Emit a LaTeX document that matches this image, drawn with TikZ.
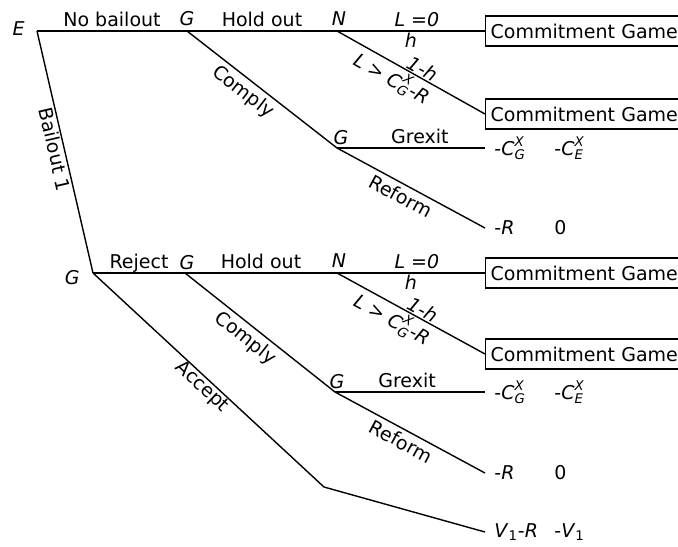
\documentclass[tikz,border=0pt]{standalone}
\usepackage{amsmath}
\usepackage{fontspec}
\setmainfont{DejaVu Sans}
\usetikzlibrary{positioning}

\newcommand{\costx}[1]{$\textit{C}^{\textit{X}}_{\textit{#1}}$}

\begin{document}
\begin{tikzpicture}[
            x=0.5pt, y=-0.5pt,
            every node/.style={font=\fontsize{9.5}{11}\selectfont},
            player/.style={
                font=\fontsize{9.5}{11}\selectfont\itshape,
                inner sep=1pt
            },
            move/.style={inner sep=2pt, text depth=0pt},
            game/.style={
                rectangle,
                draw,
                line width=0.7pt,
                anchor=west,
                minimum height=15pt,
                text width=100pt,
                inner xsep=2.5pt
            },
            payoff/.style={anchor=west, inner xsep=4.5pt},
            branch/.style={line width=0.7pt}
        ]
        \useasboundingbox (0,0) rectangle (678,546);

        % Decision points
        \coordinate (e) at (37,31);
        \coordinate (g1) at (187,31);
        \coordinate (n1) at (337,31);
        \coordinate (g2) at (337,148);
        \coordinate (g3) at (93,273);
        \coordinate (g4) at (185,273);
        \coordinate (n2) at (337,273);
        \coordinate (g5) at (335,392);
        \coordinate (acc) at (324,487);

        % Players
        \node[player, left=5pt of e, yshift=1pt] (le) {E};
        \node[player, above=1.5pt of g1] (lg1) {G};
        \node[player, above=1.5pt of n1, xshift=1pt] (ln1) {N};
        \node[player, above=0.5pt of g2, xshift=2pt] (lg2) {G};
        \node[player, left=5.5pt of g3, yshift=-2.5pt] (lg3) {G};
        \node[player, above=0.5pt of g4, xshift=1pt] (lg4) {G};
        \node[player, above=1.5pt of n2, xshift=1pt] (ln2) {N};
        \node[player, above=0.5pt of g5, xshift=1pt] (lg5) {G};

        % Outcomes
        \node[game] (cg1) at (485,31) {Commitment Game};
        \node[game] (cg2) at (485,114) {Commitment Game};
        \node[payoff] (exit1) at (485,148) {\makebox[30pt][l]{-\costx{G}}-\costx{E}};
        \node[payoff] (ref1) at (485,228) {\makebox[30pt][l]{-\textit{R}}0};
        \node[game] (cg3) at (485,273) {Commitment Game};
        \node[game] (cg4) at (485,354) {Commitment Game};
        \node[payoff] (exit2) at (485,392) {\makebox[30pt][l]{-\costx{G}}-\costx{E}};
        \node[payoff] (ref2) at (485,473) {\makebox[30pt][l]{-\textit{R}}0};
        \node[payoff] (bail) at (485,532) {\makebox[30pt][l]{\textit{V}$_{\text{1}}$-\textit{R}}-\textit{V}$_{\text{1}}$};

        % Branches
        \draw[branch] (e) -- node[move, above] {No bailout} (g1);
        \draw[branch] (g1) -- node[move, above] {Hold out} (n1);
        \draw[branch] (n1) -- node[move, above, pos=0.54] {\textit{L =0}}
            node[move, below, pos=0.5, inner sep=0.5pt] {\textit{h}} (cg1.west);
        \draw[branch] (n1) -- node[move, sloped, above, pos=0.55, inner sep=0.5pt] {\textit{1-h}}
            node[move, sloped, below, pos=0.42, inner sep=1pt] {\textit{L >} \costx{G}\textit{-R}} (cg2.west);
        \draw[branch] (g1) -- node[move, sloped, below, pos=0.43] {Comply} (g2);
        \draw[branch] (g2) -- node[move, above, pos=0.56] {Grexit} (exit1.west);
        \draw[branch] (g2) -- node[move, sloped, below, pos=0.47] {Reform} (ref1.west);

        \draw[branch] (e) -- node[move, sloped, below, pos=0.48, inner sep=0.5pt] {Bailout 1} (g3);
        \draw[branch] (g3) -- node[move, above] {Reject} (g4);
        \draw[branch] (g4) -- node[move, above] {Hold out} (n2);
        \draw[branch] (n2) -- node[move, above, pos=0.54] {\textit{L =0}}
            node[move, below, pos=0.5, inner sep=0.5pt] {\textit{h}} (cg3.west);
        \draw[branch] (n2) -- node[move, sloped, above, pos=0.55, inner sep=0.5pt] {\textit{1-h}}
            node[move, sloped, below, pos=0.42, inner sep=1pt] {\textit{L >} \costx{G}\textit{-R}} (cg4.west);
        \draw[branch] (g4) -- node[move, sloped, below, pos=0.46] {Comply} (g5);
        \draw[branch] (g5) -- node[move, above, pos=0.48] {Grexit} (exit2.west);
        \draw[branch] (g5) -- node[move, sloped, below, pos=0.48] {Reform} (ref2.west);
        \draw[branch] (g3) -- node[move, sloped, below, pos=0.5, inner sep=0pt] {Accept} (acc)
            -- (bail.west);

        \end{tikzpicture}
\end{document}
